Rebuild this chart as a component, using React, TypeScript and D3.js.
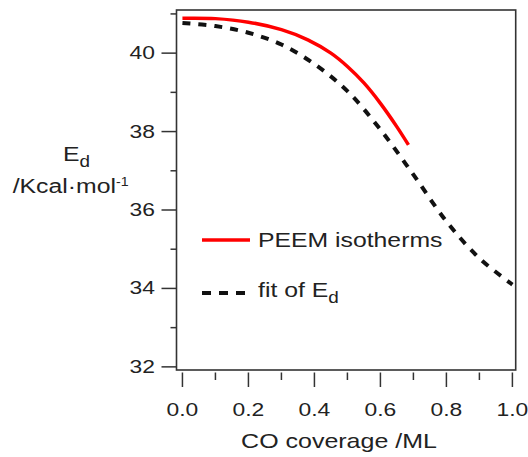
import * as d3 from "d3";
import { useEffect, useRef } from "react";

// PEEM isotherms (measured)
const peemCoverage = [0, 0.1, 0.2, 0.3, 0.38, 0.45, 0.5, 0.55, 0.6, 0.65, 0.685];
const peemEd = [40.89, 40.88, 40.79, 40.6, 40.34, 40.0, 39.66, 39.24, 38.72, 38.12, 37.66];

// fit of Ed
const fitCoverage = [0, 0.1, 0.2, 0.3, 0.4, 0.5, 0.6, 0.7, 0.8, 0.9, 1.0];
const fitEd = [40.77, 40.69, 40.52, 40.22, 39.72, 39.03, 38.05, 36.9, 35.71, 34.77, 34.1];

const xTicks = [0, 0.2, 0.4, 0.6, 0.8, 1.0];
const xMinorTicks = [0.1, 0.3, 0.5, 0.7, 0.9];
const yTicks = [32, 34, 36, 38, 40];
const yMinorTicks = [33, 35, 37, 39, 41];

const FONT = "'Liberation Sans', Arial, Helvetica, sans-serif";
const INK = "#222";

const App = () => {
    const svgRef = useRef(null);

    useEffect(() => {
        const width = 528;
        const height = 457;
        const plot = { left: 176.5, right: 515.7, top: 10, bottom: 370 };

        const svg = d3.select(svgRef.current).attr("width", width).attr("height", height);
        svg.selectAll("*").remove();

        const x = d3.scaleLinear().domain([-0.018, 1.01]).range([plot.left, plot.right]);
        const y = d3.scaleLinear().domain([31.92, 41.1]).range([plot.bottom, plot.top]);

        // text with the slightly wide look of the original
        const label = (px, py, size, sx, anchor = "start") =>
            svg
                .append("text")
                .attr("transform", `translate(${px},${py}) scale(${sx},1)`)
                .attr("font-family", FONT)
                .attr("font-size", size)
                .attr("fill", INK)
                .attr("text-anchor", anchor);

        // frame
        svg.append("rect")
            .attr("x", plot.left)
            .attr("y", plot.top)
            .attr("width", plot.right - plot.left)
            .attr("height", plot.bottom - plot.top)
            .attr("fill", "none")
            .attr("stroke", "#333")
            .attr("stroke-width", 1.6);

        // y ticks
        svg.selectAll(".ytick")
            .data(yTicks)
            .join("line")
            .attr("x1", plot.left - 15)
            .attr("x2", plot.left)
            .attr("y1", (d) => y(d))
            .attr("y2", (d) => y(d))
            .attr("stroke", "#333")
            .attr("stroke-width", 1.5);
        svg.selectAll(".yminor")
            .data(yMinorTicks)
            .join("line")
            .attr("x1", plot.left - 6)
            .attr("x2", plot.left)
            .attr("y1", (d) => y(d))
            .attr("y2", (d) => y(d))
            .attr("stroke", "#333")
            .attr("stroke-width", 1.5);
        yTicks.forEach((t) => label(155, y(t) + 6, 18, 1.27, "end").text(t));

        // x ticks
        const xt0 = plot.bottom + 2.5;
        svg.selectAll(".xtick")
            .data(xTicks)
            .join("line")
            .attr("x1", (d) => x(d))
            .attr("x2", (d) => x(d))
            .attr("y1", xt0)
            .attr("y2", xt0 + 14.5)
            .attr("stroke", "#333")
            .attr("stroke-width", 1.5);
        svg.selectAll(".xminor")
            .data(xMinorTicks)
            .join("line")
            .attr("x1", (d) => x(d))
            .attr("x2", (d) => x(d))
            .attr("y1", xt0)
            .attr("y2", xt0 + 7.5)
            .attr("stroke", "#333")
            .attr("stroke-width", 1.5);
        xTicks.forEach((t) => label(x(t), 416, 18, 1.27, "middle").text(d3.format(".1f")(t)));

        // axis titles
        label(339, 448, 21, 1.19, "middle").text("CO coverage /ML");
        const ed = label(63, 161, 21, 1.18);
        ed.append("tspan").text("E");
        ed.append("tspan").attr("font-size", 16).attr("dy", 6).text("d");
        const unit = label(12.7, 193, 21, 1.18);
        unit.append("tspan").text("/Kcal·mol");
        unit.append("tspan").attr("font-size", 12).attr("dy", -7).text("-1");

        // curves
        const line = d3
            .line()
            .x((d) => x(d[0]))
            .y((d) => y(d[1]))
            .curve(d3.curveCatmullRom);

        svg.append("path")
            .datum(fitCoverage.map((c, i) => [c, fitEd[i]]))
            .attr("fill", "none")
            .attr("stroke", "#111")
            .attr("stroke-width", 4)
            .attr("stroke-dasharray", "8,8")
            .attr("d", line);

        svg.append("path")
            .datum(peemCoverage.map((c, i) => [c, peemEd[i]]))
            .attr("fill", "none")
            .attr("stroke", "#ff0000")
            .attr("stroke-width", 3.5)
            .attr("d", line);

        // legend
        svg.append("line")
            .attr("x1", 202)
            .attr("x2", 250)
            .attr("y1", 240)
            .attr("y2", 240)
            .attr("stroke", "#ff0000")
            .attr("stroke-width", 3.5);
        label(258, 247, 21, 1.18).text("PEEM isotherms");

        svg.append("line")
            .attr("x1", 202)
            .attr("x2", 246)
            .attr("y1", 293)
            .attr("y2", 293)
            .attr("stroke", "#111")
            .attr("stroke-width", 4)
            .attr("stroke-dasharray", "9,8");
        const fit = label(258, 297, 21, 1.18);
        fit.append("tspan").text("fit of E");
        fit.append("tspan").attr("font-size", 16).attr("dy", 6).text("d");
    }, []);

    return <svg ref={svgRef} style={{ position: "absolute", left: 0, top: 0 }} />;
};

export default App;
